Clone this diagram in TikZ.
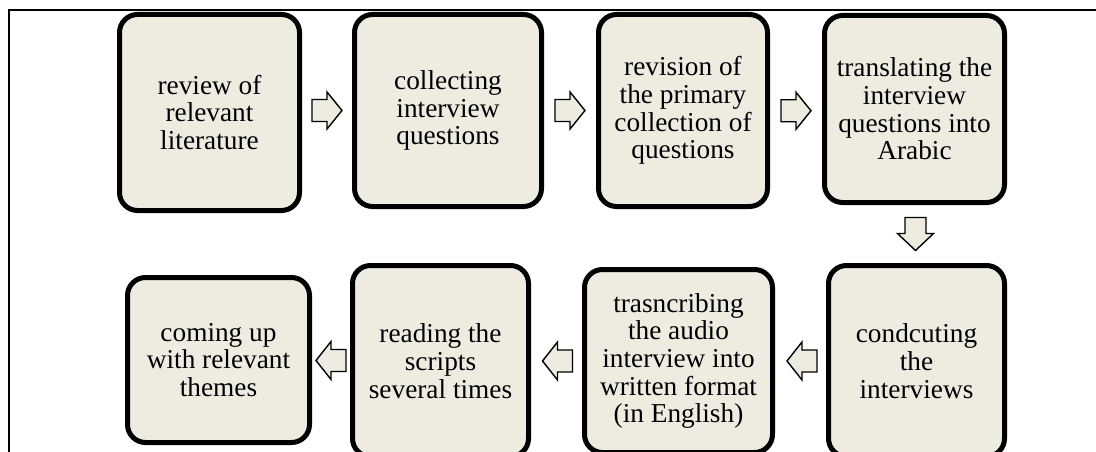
\documentclass[tikz,border=0pt]{standalone}
\usepackage{fontspec}
\setmainfont{Liberation Serif}
\usetikzlibrary{calc}
\definecolor{boxfill}{HTML}{EEECE1}
\tikzset{
  stepbox/.style={draw=black, line width=5pt, fill=boxfill, rounded corners=18pt,
    inner sep=0pt, align=center,
    font=\fontsize{27.3}{27.7}\selectfont},
  blockarrow/.style={draw=black, line width=1.4pt, fill=boxfill, line join=miter},
  rarr/.pic={\draw[blockarrow] (-15,-11) -- (0,-11) -- (0,-18.5) -- (15,0) -- (0,18.5) -- (0,11) -- (-15,11) -- cycle;},
  larr/.pic={\draw[blockarrow] (15,-11) -- (0,-11) -- (0,-19) -- (-15,0) -- (0,19) -- (0,11) -- (15,11) -- cycle;},
  darr/.pic={\draw[blockarrow] (-10.5,-16.5) -- (10.5,-16.5) -- (10.5,-0.5) -- (18,-0.5) -- (0,16.5) -- (-18,-0.5) -- (-10.5,-0.5) -- cycle;},
  frame/.style={draw=black, line width=1.5pt}
}
\begin{document}
\begin{tikzpicture}[x=1pt,y=-1pt]
\useasboundingbox (0,0) rectangle (1096,452);
\coordinate (fs) at (9,452);
\coordinate (fc) at (9,10);
\coordinate (fe) at (1096,10);
\draw[frame] (fs) -- (fc) -- (fe);

\node[stepbox, minimum width=180pt, minimum height=196pt] (b1) at (209.5,112.5) {review of\\relevant\\literature};
\node[stepbox, minimum width=187pt, minimum height=192pt] (b2) at (448,110.5) {collecting\\interview\\questions};
\node[stepbox, minimum width=169pt, minimum height=192pt] (b3) at (683,110.5) {revision of\\the primary\\collection of\\questions};
\node[stepbox, minimum width=180pt, minimum height=187pt] (b4) at (914.5,109) {translating the\\interview\\questions into\\Arabic};
\node[stepbox, minimum width=176pt, minimum height=191pt] (b5) at (916.5,361) {condcuting\\the\\interviews};
\node[stepbox, minimum width=188pt, minimum height=183pt] (b6) at (678.5,361) {trasncribing\\the audio\\interview into\\written format\\(in English)};
\node[stepbox, minimum width=176pt, minimum height=191pt] (b7) at (440.5,361) {reading the\\scripts\\several times};
\node[stepbox, minimum width=182pt, minimum height=165pt] (b8) at (218.5,360) {coming up\\with relevant\\themes};

\pic at ($(b1.east)!0.5!(b2.west)+(0,-1)$) {rarr};
\pic at ($(b2.east)!0.5!(b3.west)$) {rarr};
\pic at ($(b3.east)!0.5!(b4.west)+(0,1)$) {rarr};
\pic at ($(b4.south)!0.5!(b5.north)$) {darr};
\pic at ($(b5.west)!0.5!(b6.east)+(1.5,0)$) {larr};
\pic at ($(b6.west)!0.5!(b7.east)+(1,0)$) {larr};
\pic at ($(b7.west)!0.5!(b8.east)$) {larr};
\end{tikzpicture}
\end{document}
